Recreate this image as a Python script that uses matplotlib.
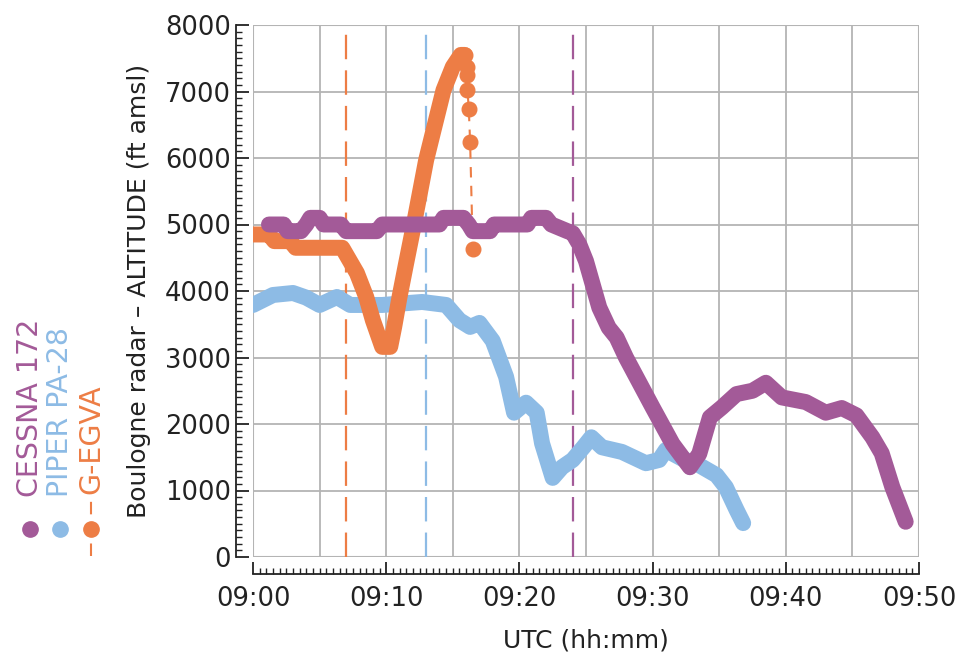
import numpy as np
import matplotlib.pyplot as plt
from matplotlib.lines import Line2D
from matplotlib.patches import Rectangle

# minutes after 09:00 UTC, altitude ft amsl
cessna_t = [1.2, 2.3, 2.6, 3.6, 4.0, 4.3, 5.0, 5.3, 6.6, 7.0,
            9.3, 9.7, 14.0, 14.3, 15.8, 16.2, 16.5, 17.8, 18.1, 20.6,
            20.9, 22.0, 22.4, 23.0, 23.6, 24.0, 24.5, 25.0, 25.5, 26.0,
            26.7, 27.3, 28.0, 28.8, 30.0, 31.5, 32.8, 33.5, 34.3, 35.2,
            36.3, 37.5, 38.5, 39.7, 41.5, 43.0, 44.2, 45.3, 46.5, 47.2,
            48.0, 49.0]
cessna_alt = [5000, 5000, 4900, 4900, 5000, 5100, 5100, 5000, 5000, 4900,
              4900, 5000, 5000, 5100, 5100, 5000, 4900, 4900, 5000, 5000,
              5100, 5100, 5000, 4950, 4900, 4870, 4700, 4450, 4100, 3750,
              3450, 3300, 3000, 2700, 2250, 1700, 1350, 1550, 2100, 2250,
              2450, 2500, 2620, 2400, 2330, 2170, 2240, 2130, 1800, 1560,
              1050, 530]

piper_t = [0.0, 1.5, 3.0, 4.0, 5.0, 6.3, 7.3, 9.7, 12.7, 14.5,
           15.5, 16.3, 17.0, 18.0, 19.0, 19.6, 20.5, 21.3, 21.7, 22.5,
           23.2, 24.0, 24.8, 25.4, 26.2, 27.7, 29.5, 30.5, 31.0, 32.2,
           33.5, 34.8, 35.5, 36.3, 36.8]
piper_alt = [3790, 3940, 3970, 3900, 3790, 3910, 3790, 3790, 3835, 3790,
             3560, 3460, 3520, 3250, 2710, 2170, 2320, 2170, 1710, 1190,
             1350, 1460, 1650, 1800, 1650, 1580, 1410, 1460, 1610, 1480,
             1380, 1230, 1050, 710, 510]

egva_t = [0.0, 1.2, 1.6, 2.8, 3.2, 6.7, 7.8, 8.5, 9.0, 9.7,
          10.3, 10.6, 11.0, 11.5, 12.0, 13.0, 13.5, 14.3, 15.0, 15.6,
          15.9]
egva_alt = [4850, 4850, 4750, 4750, 4650, 4650, 4270, 3910, 3560, 3160,
            3160, 3460, 3910, 4420, 4920, 5970, 6375, 7020, 7370, 7550,
            7550]
# last sparse returns after the peak
egva_tail_t = [15.9, 16.1, 16.1, 16.1, 16.2, 16.3, 16.5]
egva_tail_alt = [7550, 7370, 7250, 7020, 6740, 6240, 4630]

event_t = [7.0, 13.0, 24.0]
xtick_labels = ["09:00", "09:10", "09:20", "09:30", "09:40", "09:50"]

purple = "#a35a98"
blue = "#8dbbe5"
orange = "#ed7d45"
grey = "#b4b4b4"
ink = "#222222"

plt.rcParams['font.family'] = ['DejaVu Sans']
fig = plt.figure(figsize=(9.6, 6.64), dpi=100)
ax = fig.add_axes([253 / 960, 1 - 557 / 664, 666 / 960, 532 / 664])

ax.set_xlim(0, 50)
ax.set_ylim(0, 8000)

# grid every 5 min / 1000 ft and grey frame
for gx in range(5, 50, 5):
    ax.axvline(gx, color=grey, lw=1.3, zorder=0)
for gy in range(1000, 8000, 1000):
    ax.axhline(gy, color=grey, lw=1.3, zorder=0)
ax.add_patch(Rectangle((0, 0), 1, 1, transform=ax.transAxes, fill=False,
                       edgecolor=grey, lw=1.5, zorder=0))

for t, c in zip(event_t, [orange, blue, purple]):
    ax.axvline(t, color=c, lw=1.6, ls=(0, (11, 5)), zorder=1)

thick = dict(lw=11.5, solid_capstyle='round', solid_joinstyle='round')
ax.plot(piper_t, piper_alt, color=blue, zorder=2, **thick)
ax.plot(egva_t, egva_alt, color=orange, zorder=3, **thick)
ax.plot(egva_tail_t, egva_tail_alt, color=orange, lw=1.5, ls=(0, (5, 4)),
        marker='o', ms=10.5, zorder=3)
ax.plot(cessna_t, cessna_alt, color=purple, zorder=4, **thick)

# IDL-like offset axes
for s in ['top', 'right']:
    ax.spines[s].set_visible(False)
for s in ['left', 'bottom']:
    ax.spines[s].set_position(('outward', 12))
    ax.spines[s].set_linewidth(1.3)
    ax.spines[s].set_color(ink)
ax.set_xticks(range(0, 51, 10))
ax.set_xticklabels(xtick_labels)
ax.set_xticks(np.arange(0, 50.1, 0.5), minor=True)
ax.set_yticks(range(0, 8001, 1000))
ax.set_yticks(range(0, 8001, 100), minor=True)
ax.tick_params(which='major', direction='in', length=9, width=1.3,
               labelsize=18.5, color=ink, labelcolor=ink)
ax.tick_params(which='minor', direction='in', length=4, width=1, color=ink)
ax.tick_params(axis='x', which='major', pad=9)
ax.tick_params(axis='y', which='major', pad=4)
ax.set_xlabel("UTC (hh:mm)", fontsize=18, labelpad=12, color=ink)
ax.set_ylabel("Boulogne radar \u2013 ALTITUDE (ft amsl)", fontsize=18,
              labelpad=10, color=ink)

# vertical legend on the left
legend = [("CESSNA 172", purple, 30, False),
          ("PIPER PA-28", blue, 60, False),
          ("G-EGVA", orange, 91, True)]
for text, c, xp, dashed in legend:
    y0 = 497 if not dashed else 494
    fig.text(xp / 960, 1 - y0 / 664, text, color=c, fontsize=20.5,
             rotation=90, ha='center', va='bottom')
    if dashed:
        fig.add_artist(Line2D([xp / 960] * 2, [1 - 556 / 664, 1 - 498 / 664],
                              color=c, lw=1.5, ls=(0, (6, 4))))
    fig.add_artist(Line2D([xp / 960], [1 - 529 / 664], color=c,
                          marker='o', ms=11))

fig.savefig("out.png", dpi=100)
